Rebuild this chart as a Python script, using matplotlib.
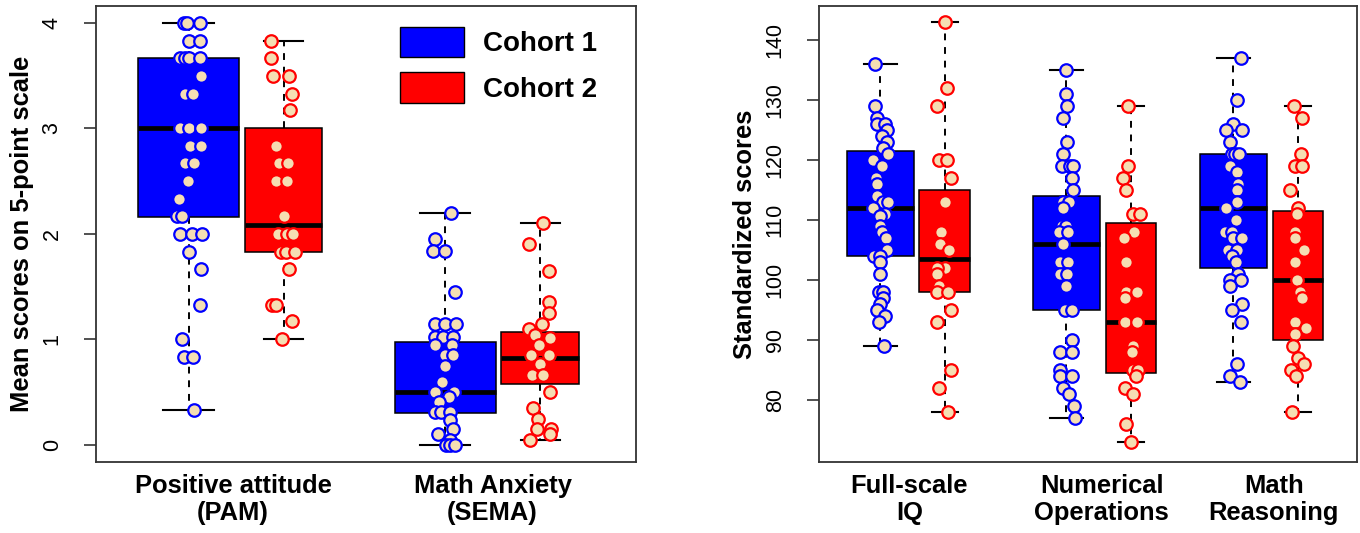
import matplotlib
matplotlib.use('Agg')
import matplotlib.pyplot as plt
from matplotlib.patches import Patch
from matplotlib.transforms import blended_transform_factory

plt.rcParams['font.family'] = ['Liberation Sans', 'DejaVu Sans']

# ---------------- data ----------------
cohorts = ['Cohort 1', 'Cohort 2']
left_categories = ['Positive attitude\n(PAM)', 'Math Anxiety\n(SEMA)']
right_categories = ['Full-scale\nIQ', 'Numerical\nOperations', 'Math\nReasoning']
left_ylabel = 'Mean scores on 5-point scale'
right_ylabel = 'Standardized scores'
left_yticks = [0, 1, 2, 3, 4]
right_yticks = [80, 90, 100, 110, 120, 130, 140]

# individual scores and horizontal jitter offsets
pam_c1 = [4.0, 4.0, 4.0, 3.83, 3.83, 3.67, 3.67, 3.67, 3.67, 3.5, 3.33, 3.33,
          3.0, 3.0, 3.0, 2.83, 2.83, 2.67, 2.67, 2.5, 2.33, 2.17, 2.17,
          2.0, 2.0, 2.0, 1.83, 1.67, 1.33, 1.0, 0.83, 0.83, 0.33]
pam_c1_jit = [-0.05, -0.02, 0.12, 0.01, 0.12, -0.09, -0.04, 0.0, 0.12, 0.13, -0.04, 0.05,
              -0.09, 0.01, 0.13, 0.02, 0.13, -0.04, 0.06, -0.01, -0.10, -0.12, -0.07,
              -0.09, 0.04, 0.14, 0.0, 0.13, 0.12, -0.07, -0.05, 0.05, 0.06]
pam_c2 = [3.83, 3.67, 3.5, 3.5, 3.33, 3.17, 2.83, 2.67, 2.67, 2.5, 2.5, 2.17,
          2.0, 2.0, 2.0, 1.83, 1.83, 1.83, 1.67, 1.33, 1.33, 1.17, 1.0]
pam_c2_jit = [-0.13, -0.13, -0.11, 0.06, 0.09, 0.07, -0.08, -0.05, 0.05, -0.08, 0.04, 0.0,
              -0.06, 0.04, 0.10, -0.03, 0.03, 0.12, 0.06, -0.12, -0.08, 0.09, -0.02]
sema_c1 = [2.2, 1.95, 1.84, 1.84, 1.45, 1.15, 1.15, 1.15, 1.02, 1.02, 1.02, 0.95, 0.95,
           0.85, 0.85, 0.75, 0.6, 0.5, 0.5, 0.45, 0.41, 0.31, 0.31, 0.31, 0.24, 0.15,
           0.1, 0.05, 0.0, 0.0, 0.0]
sema_c1_jit = [0.06, -0.11, -0.13, 0.0, 0.11, -0.11, 0.0, 0.12, -0.11, -0.02, 0.08, -0.11, 0.07,
               0.0, 0.08, 0.0, -0.03, -0.11, 0.09, 0.04, -0.06, -0.11, -0.04, 0.05, 0.05, 0.08,
               -0.07, 0.05, 0.01, 0.05, 0.10]
sema_c2 = [2.1, 1.9, 1.65, 1.35, 1.25, 1.15, 1.1, 1.04, 1.01, 0.95, 0.85, 0.85, 0.77,
           0.66, 0.66, 0.5, 0.35, 0.25, 0.15, 0.15, 0.1, 0.05]
sema_c2_jit = [0.035, -0.12, 0.09, 0.09, 0.09, 0.02, -0.12, -0.05, 0.10, -0.01, 0.09, -0.09, 0.0,
               -0.08, 0.035, 0.10, -0.07, -0.02, -0.035, 0.12, 0.10, -0.11]

fsiq_c1 = [136, 129, 127, 126, 126, 125, 124, 123, 122, 121, 120, 119, 117, 116, 114, 113, 113,
           112, 111, 110.7, 109, 108, 107, 105, 104, 104, 103, 101, 98, 98, 97, 96, 95, 94, 93, 89]
fsiq_c1_jit = [-0.085, -0.085, -0.06, -0.06, 0.07, 0.10, 0.03, 0.10, 0.04, 0.12, -0.11, 0.02, -0.07,
               -0.06, -0.06, 0.04, 0.12, -0.12, 0.07, 0.0, 0.0, 0.02, 0.09, 0.10, -0.10, 0.0, 0.0,
               0.0, -0.03, 0.04, 0.04, 0.0, -0.06, 0.07, -0.03, 0.05]
fsiq_c2 = [143, 132, 129, 120, 120, 117, 113, 108, 106, 105, 102, 102, 101, 99, 98, 98, 95, 93,
           85, 82, 78]
fsiq_c2_jit = [0.0, 0.03, -0.13, -0.09, 0.03, 0.10, 0.0, -0.06, -0.07, 0.06, 0.0, -0.12, -0.13,
               -0.09, -0.13, 0.04, 0.10, -0.12, 0.10, -0.09, 0.04]
numop_c1 = [135, 131, 129, 127, 123, 121, 119, 119, 119, 117, 115, 113, 113, 112, 109, 109,
            108, 108, 106, 103, 103, 101, 101, 99, 95, 95, 90, 88, 88, 85, 84, 84, 82, 81, 79, 77]
numop_c1_jit = [0.0, 0.0, 0.01, -0.06, 0.01, -0.06, -0.07, 0.05, 0.10, 0.08, 0.10, -0.06, 0.04,
                -0.06, -0.07, 0.0, -0.11, 0.02, -0.06, -0.10, 0.03, -0.10, 0.01, -0.01, -0.02,
                0.08, 0.08, -0.10, 0.09, -0.10, -0.10, 0.08, -0.06, 0.04, 0.12, 0.13]
numop_c2 = [129, 119, 117, 115, 111, 111, 108, 107, 103, 98, 98, 97, 93, 93, 89, 88, 85, 85,
            84, 82, 81, 76, 73]
numop_c2_jit = [-0.04, -0.04, -0.12, -0.08, 0.03, 0.14, 0.04, -0.11, -0.07, -0.07, 0.10, -0.09,
                -0.09, 0.10, 0.03, 0.01, 0.03, 0.11, 0.08, -0.10, 0.03, -0.07, 0.0]
mathr_c1 = [137, 130, 126, 125, 125, 123, 121, 121, 121, 119, 118, 116, 115, 113, 112, 110,
            108, 108, 107, 107, 105, 105, 104, 103, 101, 100, 100, 99, 96, 95, 93, 86, 84, 83]
mathr_c1_jit = [0.12, 0.06, 0.0, -0.11, 0.13, -0.06, -0.03, 0.02, 0.09, -0.06, 0.05, 0.07, 0.06,
                0.05, -0.11, 0.04, -0.13, -0.03, 0.0, 0.13, -0.08, 0.06, -0.03, 0.04, 0.07, -0.06,
                0.12, -0.05, 0.13, -0.03, 0.12, 0.05, -0.05, 0.10]
mathr_c2 = [129, 127, 121, 119, 119, 115, 112, 111, 108, 107, 105, 103, 100, 98, 97, 93, 92,
            91, 89, 87, 86, 85, 84, 78]
mathr_c2_jit = [-0.06, 0.07, 0.04, -0.05, 0.07, -0.13, 0.0, -0.02, -0.05, -0.05, 0.10, -0.05,
                -0.02, 0.03, 0.07, -0.05, 0.12, -0.05, -0.07, 0.0, 0.09, -0.11, -0.03, -0.10]

# box summaries (as drawn): order = cohort1, cohort2 per category
left_q1 = [2.16, 1.83, 0.30, 0.575]
left_med = [3.0, 2.08, 0.50, 0.825]
left_q3 = [3.67, 3.0, 0.975, 1.07]
left_whislo = [0.33, 1.0, 0.0, 0.05]
left_whishi = [4.0, 3.83, 2.2, 2.1]

right_q1 = [104, 98, 95, 84.5, 102, 90]
right_med = [112, 103.5, 106, 93, 112, 100]
right_q3 = [121.5, 115, 114, 109.5, 121, 111.5]
right_whislo = [89, 78, 77, 73, 83, 78]
right_whishi = [136, 143, 135, 129, 137, 129]

# ---------------- styling ----------------
box_colors = ['#0000FF', '#FF0000']
point_fill = '#F5DEB3'
label_font = dict(fontsize=18.4, fontweight='bold')

fig = plt.figure(figsize=(13.6, 5.33), dpi=100)
axL = fig.add_axes([96 / 1360, 71 / 533, 540 / 1360, 456 / 533])
axR = fig.add_axes([819 / 1360, 71 / 533, 538 / 1360, 456 / 533])


def draw_panel(ax, positions, widths, q1, med, q3, lo, hi, groups, jits, cats, cat_x):
    stats = []
    for i in range(len(positions)):
        stats.append(dict(med=med[i], q1=q1[i], q3=q3[i], whislo=lo[i], whishi=hi[i], fliers=[]))
    bp = ax.bxp(stats, positions=positions, widths=widths, capwidths=[w * 0.5 for w in widths],
                patch_artist=True, showfliers=False, manage_ticks=False,
                boxprops=dict(edgecolor='black', linewidth=1.1),
                whiskerprops=dict(color='black', linewidth=1.4, linestyle=(0, (3.5, 3.5))),
                capprops=dict(color='black', linewidth=1.5),
                medianprops=dict(color='black', linewidth=3.4, solid_capstyle='butt'))
    for i, patch in enumerate(bp['boxes']):
        patch.set_facecolor(box_colors[i % 2])
        patch.set_zorder(2)
    for i, (vals, jit) in enumerate(zip(groups, jits)):
        xs = [positions[i] + j for j in jit]
        ax.plot(xs, vals, linestyle='none', marker='o', markersize=9,
                markerfacecolor=point_fill, markeredgecolor=box_colors[i % 2],
                markeredgewidth=1.6, zorder=3)
    trans = blended_transform_factory(ax.transData, ax.transAxes)
    for name, x in zip(cats, cat_x):
        ax.text(x, -0.026, name, transform=trans, ha='center', va='top',
                linespacing=1.14, **label_font)
    ax.set_xticks([])
    for s in ax.spines.values():
        s.set_color('#333333')
        s.set_linewidth(1.3)
    ax.tick_params(axis='y', length=9, width=1.2, pad=15, labelsize=15.5, color='#333333')
    for lab in ax.get_yticklabels():
        lab.set_rotation(90)
        lab.set_va('center')


# left panel
posL = [1, 2, 3.7, 4.7]
widL = [1.063, 0.82, 1.063, 0.82]
axL.set_xlim(0.026, 5.71)
axL.set_ylim(-0.162, 4.16)
axL.set_yticks(left_yticks)
axL.set_yticklabels([str(t) for t in left_yticks])
draw_panel(axL, posL, widL, left_q1, left_med, left_q3, left_whislo, left_whishi,
           [pam_c1, pam_c2, sema_c1, sema_c2],
           [pam_c1_jit, pam_c2_jit, sema_c1_jit, sema_c2_jit],
           left_categories, [1.47, 4.2])
axL.text(-0.137, 0.5, left_ylabel, rotation=90, ha='center', va='center',
         transform=axL.transAxes, **label_font)
handles = [Patch(facecolor=box_colors[0], edgecolor='black', label=cohorts[0]),
           Patch(facecolor=box_colors[1], edgecolor='black', label=cohorts[1])]
axL.legend(handles=handles, loc='upper left', bbox_to_anchor=(0.563, 0.955), frameon=False,
           prop=dict(size=20, weight='bold'), handlelength=2.3, handleheight=1.3,
           labelspacing=0.55, handletextpad=0.68, borderpad=0, borderaxespad=0)

# right panel
posR = [1, 2, 3.884, 4.884, 6.473, 7.473]
widR = [1.04, 0.79, 1.04, 0.79, 1.04, 0.79]
axR.set_xlim(0.047, 8.388)
axR.set_ylim(69.7, 145.7)
axR.set_yticks(right_yticks)
axR.set_yticklabels([str(t) for t in right_yticks])
draw_panel(axR, posR, widR, right_q1, right_med, right_q3, right_whislo, right_whishi,
           [fsiq_c1, fsiq_c2, numop_c1, numop_c2, mathr_c1, mathr_c2],
           [fsiq_c1_jit, fsiq_c2_jit, numop_c1_jit, numop_c2_jit, mathr_c1_jit, mathr_c2_jit],
           right_categories, [1.45, 4.43, 7.1])
axR.text(-0.137, 0.5, right_ylabel, rotation=90, ha='center', va='center',
         transform=axR.transAxes, **label_font)

fig.savefig('out.png', dpi=100)
